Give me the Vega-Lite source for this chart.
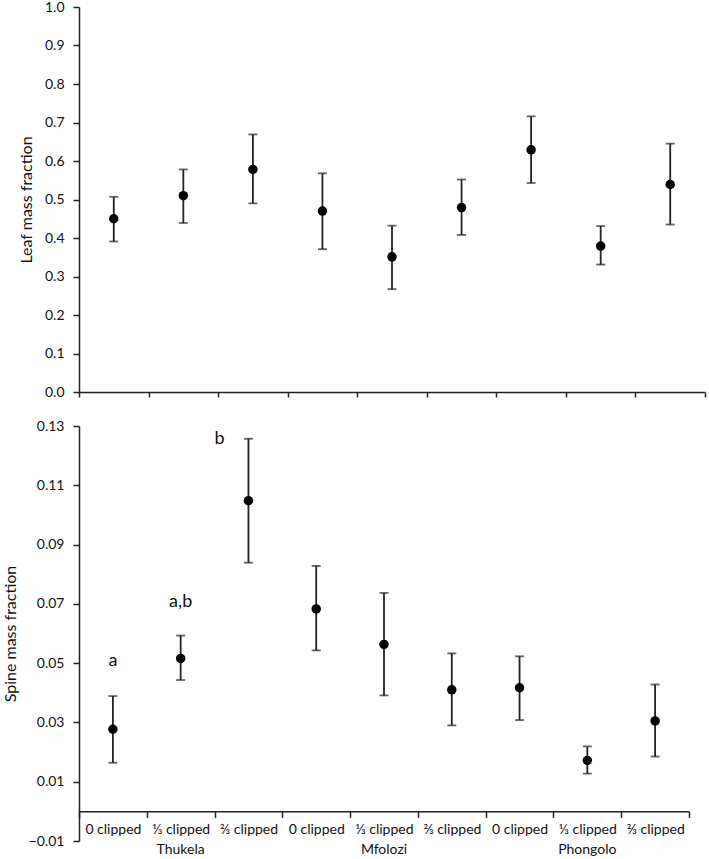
{
  "$schema": "https://vega.github.io/schema/vega-lite/v6.json",
  "padding": {"left": 2, "top": 0, "right": 2, "bottom": 0},
  "background": "white",
  "config": {
    "font": "Lato",
    "view": {"stroke": null},
    "axis": {
      "grid": false,
      "domainColor": "#222",
      "tickColor": "#222",
      "domainWidth": 1.5,
      "tickWidth": 1.5,
      "labelColor": "#111",
      "titleColor": "#111",
      "titleFontWeight": "normal"
    }
  },
  "datasets": {
    "d": [
      {"key": "Thukela|0 clipped", "leaf": 0.450, "leaf_lo": 0.391, "leaf_hi": 0.507, "spine": 0.0277, "spine_lo": 0.0164, "spine_hi": 0.0389},
      {"key": "Thukela|⅓ clipped", "leaf": 0.510, "leaf_lo": 0.439, "leaf_hi": 0.578, "spine": 0.0516, "spine_lo": 0.0443, "spine_hi": 0.0593},
      {"key": "Thukela|⅔ clipped", "leaf": 0.578, "leaf_lo": 0.490, "leaf_hi": 0.669, "spine": 0.1048, "spine_lo": 0.0839, "spine_hi": 0.1257},
      {"key": "Mfolozi|0 clipped", "leaf": 0.470, "leaf_lo": 0.371, "leaf_hi": 0.568, "spine": 0.0683, "spine_lo": 0.0543, "spine_hi": 0.0828},
      {"key": "Mfolozi|⅓ clipped", "leaf": 0.351, "leaf_lo": 0.267, "leaf_hi": 0.432, "spine": 0.0563, "spine_lo": 0.0391, "spine_hi": 0.0737},
      {"key": "Mfolozi|⅔ clipped", "leaf": 0.479, "leaf_lo": 0.408, "leaf_hi": 0.552, "spine": 0.0410, "spine_lo": 0.0290, "spine_hi": 0.0533},
      {"key": "Phongolo|0 clipped", "leaf": 0.629, "leaf_lo": 0.543, "leaf_hi": 0.716, "spine": 0.0417, "spine_lo": 0.0308, "spine_hi": 0.0523},
      {"key": "Phongolo|⅓ clipped", "leaf": 0.379, "leaf_lo": 0.331, "leaf_hi": 0.431, "spine": 0.0172, "spine_lo": 0.0127, "spine_hi": 0.0219},
      {"key": "Phongolo|⅔ clipped", "leaf": 0.539, "leaf_lo": 0.435, "leaf_hi": 0.645, "spine": 0.0305, "spine_lo": 0.0185, "spine_hi": 0.0428}
    ],
    "letters": [
      {"key": "Thukela|0 clipped", "letter": "a", "y": 0.0506},
      {"key": "Thukela|⅓ clipped", "letter": "a,b", "y": 0.0706}
    ],
    "letterb": [
      {"key": "Thukela|⅔ clipped", "letter": "b", "y": 0.1257}
    ],
    "sites": [
      {"key": "Thukela|⅓ clipped", "site": "Thukela", "y": -0.01},
      {"key": "Mfolozi|⅓ clipped", "site": "Mfolozi", "y": -0.01},
      {"key": "Phongolo|⅓ clipped", "site": "Phongolo", "y": -0.01}
    ]
  },
  "spacing": 20,
  "resolve": {"scale": {"x": "independent", "y": "independent"}},
  "vconcat": [
    {
      "width": 626,
      "height": 385,
      "data": {"name": "d"},
      "encoding": {
        "x": {
          "field": "key", "type": "nominal", "sort": null,
          "scale": {"paddingInner": 0, "paddingOuter": 0},
          "axis": {"title": null, "labels": false, "tickBand": "extent", "tickSize": 5}
        },
        "y": {"field": "leaf", "type": "quantitative", "title": "Leaf mass fraction",
          "scale": {"domain": [0, 1], "nice": false},
          "axis": {"values": [0, 0.1, 0.2, 0.3, 0.4, 0.5, 0.6, 0.7, 0.8, 0.9, 1.0], "format": ".1f", "labelFontSize": 14, "titleFontSize": 16, "labelOverlap": false, "tickSize": 6, "labelPadding": 9, "titlePadding": 10}}
      },
      "layer": [
        {
          "mark": {"type": "errorbar", "ticks": {"size": 9, "thickness": 1.8, "color": "#222"}, "rule": {"strokeWidth": 1.8, "color": "#222"}},
          "encoding": {
            "y": {"field": "leaf_lo", "type": "quantitative", "title": "Leaf mass fraction"},
            "y2": {"field": "leaf_hi"}
          }
        },
        {
          "mark": {"type": "point", "filled": true, "size": 90, "color": "black", "opacity": 1}
        }
      ]
    },
    {
      "width": 610,
      "height": 415,
      "data": {"name": "d"},
      "encoding": {
        "x": {
          "field": "key", "type": "nominal", "sort": null,
          "scale": {"paddingInner": 0, "paddingOuter": 0},
          "axis": {
            "title": null, "tickBand": "extent", "tickSize": 6, "offset": -29.64,
            "labelAngle": 0, "labelPadding": 5, "labelFontSize": 14, "labelOverlap": false,
            "labelExpr": "split(datum.value, '|')[1]"
          }
        },
        "y": {"field": "spine", "type": "quantitative", "title": "Spine mass fraction",
          "scale": {"domain": [-0.01, 0.13], "nice": false, "zero": false},
          "axis": {"values": [-0.01, 0.01, 0.03, 0.05, 0.07, 0.09, 0.11, 0.13], "format": ".2f", "labelFontSize": 14, "titleFontSize": 16, "labelOverlap": false, "tickSize": 6, "labelPadding": 9, "titlePadding": 10}}
      },
      "layer": [
        {
          "mark": {"type": "errorbar", "ticks": {"size": 9, "thickness": 1.8, "color": "#222"}, "rule": {"strokeWidth": 1.8, "color": "#222"}},
          "encoding": {
            "y": {"field": "spine_lo", "type": "quantitative", "title": "Spine mass fraction"},
            "y2": {"field": "spine_hi"}
          }
        },
        {
          "mark": {"type": "point", "filled": true, "size": 90, "color": "black", "opacity": 1}
        },
        {
          "data": {"name": "letters"},
          "mark": {"type": "text", "fontSize": 18, "color": "#111"},
          "encoding": {
            "y": {"field": "y", "type": "quantitative"},
            "text": {"field": "letter"}
          }
        },
        {
          "data": {"name": "letterb"},
          "mark": {"type": "text", "fontSize": 18, "color": "#111", "dx": -29},
          "encoding": {
            "y": {"field": "y", "type": "quantitative"},
            "text": {"field": "letter"}
          }
        },
        {
          "data": {"name": "sites"},
          "mark": {"type": "text", "fontSize": 14, "color": "#111", "dy": 9},
          "encoding": {
            "y": {"field": "y", "type": "quantitative"},
            "text": {"field": "site"}
          }
        }
      ]
    }
  ]
}
